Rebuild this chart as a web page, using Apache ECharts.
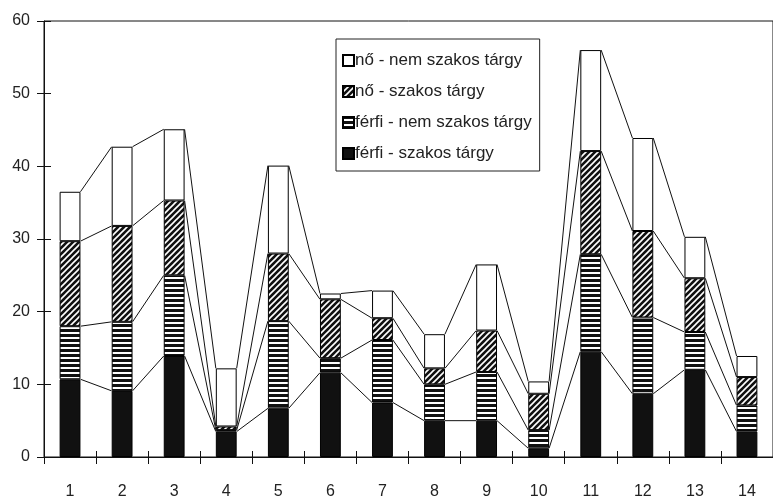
<!DOCTYPE html>
<html><head><meta charset="utf-8">
<script src="https://cdn.jsdelivr.net/npm/echarts@6/dist/echarts.min.js"></script>
<style>html,body{margin:0;padding:0;background:#fff}#c{width:773px;height:500px}</style>
</head><body><div id="c"></div>
<script>
var categories = ['1','2','3','4','5','6','7','8','9','10','11','12','13','14'];
var ferfiSzakos    = [10.7, 9.1, 13.9, 3.5, 6.7, 11.6, 7.5, 5.0, 5.0, 1.2, 14.5, 8.7, 12.0, 3.5];
var ferfiNemSzakos = [7.3, 9.5, 11.1, 0.2, 12.0, 2.0, 8.6, 5.0, 6.7, 2.5, 13.4, 10.5, 5.2, 3.6];
var noSzakos       = [11.7, 13.2, 10.3, 0.5, 9.3, 8.1, 3.0, 2.2, 5.7, 5.0, 14.2, 11.9, 7.4, 3.9];
var noNemSzakos    = [6.8, 10.9, 9.8, 8.0, 12.1, 0.8, 3.8, 4.7, 9.1, 1.7, 13.9, 12.8, 5.7, 2.9];
var seriesNames = ['férfi - szakos tárgy','férfi - nem szakos tárgy','nő - szakos tárgy','nő - nem szakos tárgy'];
var yTicks = [0, 60, 10];

function makeStripes(){
  var c = document.createElement('canvas'); c.width = 4; c.height = 5;
  var g = c.getContext('2d');
  g.fillStyle = '#111'; g.fillRect(0,0,4,5);
  g.fillStyle = '#fff'; g.fillRect(0,2,4,2);
  return c;
}
function makeHatch(){
  var s = 6;
  var c = document.createElement('canvas'); c.width = s; c.height = s;
  var g = c.getContext('2d');
  g.fillStyle = '#111'; g.fillRect(0,0,s,s);
  g.strokeStyle = '#fff'; g.lineWidth = 1.6;
  g.beginPath();
  g.moveTo(0,s); g.lineTo(s,0);
  g.moveTo(-s/2,s/2); g.lineTo(s/2,-s/2);
  g.moveTo(s/2,s+s/2); g.lineTo(s+s/2,s/2);
  g.stroke();
  return c;
}

var layers = [ferfiSzakos, ferfiNemSzakos, noSzakos, noNemSzakos];
var fills = ['#111', {image: makeStripes(), repeat: 'repeat'}, {image: makeHatch(), repeat: 'repeat'}, '#fff'];

var cum = layers.map(function(){ return []; });
for (var i = 0; i < categories.length; i++) {
  var s = 0;
  for (var k = 0; k < layers.length; k++) { s += layers[k][i]; cum[k].push(+s.toFixed(2)); }
}
var lineData = [];
for (var i = 0; i < categories.length - 1; i++) {
  lineData.push([i, cum[0][i], cum[1][i], cum[2][i], cum[3][i], cum[0][i+1], cum[1][i+1], cum[2][i+1], cum[3][i+1]]);
}

var barRatio = 0.4;
var series = layers.map(function(d, k){
  return {
    name: seriesNames[k], type: 'bar', stack: 'all', data: d,
    barWidth: (barRatio*100) + '%',
    itemStyle: { color: fills[k], borderColor: '#000', borderWidth: 1 },
    silent: true
  };
});
series.push({
  type: 'custom', name: 'serieslines', silent: true, z: 5,
  data: lineData,
  encode: { x: 0, y: 1 },
  renderItem: function(params, api){
    var i = api.value(0);
    var w = api.size([1, 0])[0];
    var half = w * barRatio / 2;
    var children = [];
    for (var k = 0; k < 4; k++) {
      var p1 = api.coord([i, api.value(1 + k)]);
      var p2 = api.coord([i + 1, api.value(5 + k)]);
      children.push({ type: 'line', shape: { x1: p1[0] + half, y1: p1[1], x2: p2[0] - half, y2: p2[1] },
        style: { stroke: '#111', lineWidth: 1 } });
    }
    return { type: 'group', children: children };
  }
});

var chart = echarts.init(document.getElementById('c'));
var font = 'Liberation Sans, Arial, sans-serif';
chart.setOption({
  animation: false,
  backgroundColor: '#fff',
  textStyle: { fontFamily: font },
  grid: { left: 44, right: -3, top: 21, bottom: 42, show: true, borderColor: '#111', borderWidth: 1, backgroundColor: 'transparent' },
  legend: {
    data: seriesNames.slice().reverse(),
    orient: 'vertical', left: 336, top: 39,
    borderColor: '#222', borderWidth: 1, padding: [13, 8, 9, 6],
    itemWidth: 11, itemHeight: 11, itemGap: 14,
    icon: 'rect',
    textStyle: { fontSize: 17, color: '#222', fontFamily: font, padding: [0,0,0,-4] },
    backgroundColor: '#fff',
    selectedMode: false
  },
  xAxis: [{
    type: 'category', data: categories, boundaryGap: true,
    axisLine: { lineStyle: { color: '#111', width: 1 } },
    axisTick: { show: true, length: 7, alignWithLabel: false, lineStyle: { color: '#111' } },
    axisLabel: { fontSize: 16, color: '#222', margin: 27 }
  }, {
    type: 'category', data: categories, boundaryGap: true, position: 'bottom',
    axisLine: { show: false },
    axisTick: { show: true, inside: true, length: 6, lineStyle: { color: '#111' } },
    axisLabel: { show: false }
  }],
  yAxis: [{
    type: 'value', min: yTicks[0], max: yTicks[1], interval: yTicks[2],
    axisLine: { show: true, lineStyle: { color: '#111' } },
    axisTick: { show: true, length: 7, lineStyle: { color: '#111' } },
    splitLine: { show: false },
    axisLabel: { fontSize: 16, color: '#222', margin: 14 }
  }, {
    type: 'value', min: yTicks[0], max: yTicks[1], interval: yTicks[2], position: 'left',
    axisLine: { show: false },
    axisTick: { show: true, inside: true, length: 7, lineStyle: { color: '#111' } },
    splitLine: { show: false },
    axisLabel: { show: false }
  }],
  series: series
});
</script></body></html>
